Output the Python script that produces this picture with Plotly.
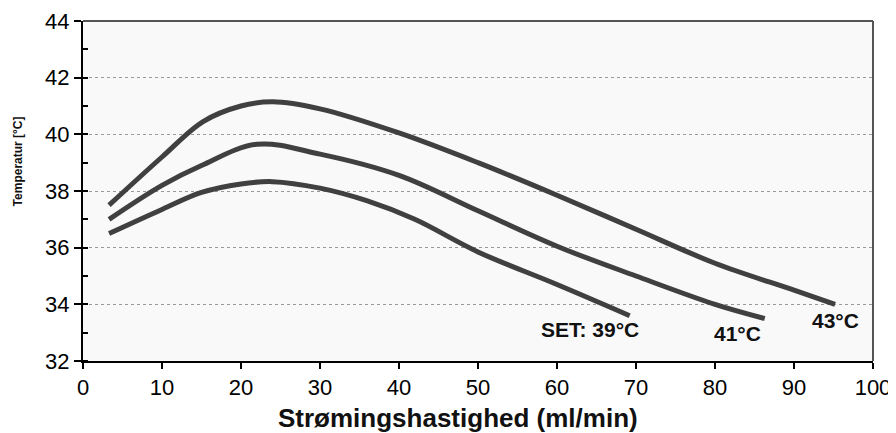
import plotly.graph_objects as go

# Data
x_39 = [3.3, 10, 15, 20, 24, 30, 36, 42, 50, 60, 69.2]
y_39 = [36.5, 37.35, 37.95, 38.25, 38.33, 38.1, 37.65, 37.0, 35.85, 34.7, 33.6]

x_41 = [3.3, 10, 15, 22, 30, 40, 50, 60, 70, 80, 86.3]
y_41 = [37.0, 38.2, 38.9, 39.65, 39.3, 38.55, 37.3, 36.05, 35.0, 34.0, 33.5]

x_43 = [3.3, 10, 15.2, 20, 24, 30, 40, 50, 60, 70, 80, 90, 95.2]
y_43 = [37.5, 39.2, 40.45, 41.0, 41.15, 40.9, 40.05, 39.0, 37.85, 36.65, 35.45, 34.5, 34.0]

labels = ["SET: 39°C", "41°C", "43°C"]
label_x = [64.2, 82.9, 95.2]
label_y = [33.1, 32.97, 33.43]

x_title = "Strømingshastighed (ml/min)"
y_title = "Temperatur [°C]"

FONT = "Liberation Sans, Arial, sans-serif"
LINE_COLOR = "#404040"

fig = go.Figure()
for xs, ys in [(x_39, y_39), (x_41, y_41), (x_43, y_43)]:
    fig.add_trace(go.Scatter(
        x=xs, y=ys, mode="lines",
        line=dict(color=LINE_COLOR, width=5, shape="spline", smoothing=1.0),
        showlegend=False, hoverinfo="skip",
    ))

for t, lx, ly in zip(labels, label_x, label_y):
    fig.add_annotation(x=lx, y=ly, xref="x", yref="y", text=f"<b>{t}</b>",
                       showarrow=False, font=dict(family=FONT, size=21, color="#111"))

# axis titles (placed as in the reference, slightly off-centre)
fig.add_annotation(x=0.475, y=-0.168, xref="paper", yref="paper",
                   xanchor="center", yanchor="middle", showarrow=False,
                   text=f"<b>{x_title}</b>", font=dict(family=FONT, size=26, color="#111"))
fig.add_annotation(x=-0.0823, y=0.587, xref="paper", yref="paper",
                   xanchor="center", yanchor="middle", showarrow=False, textangle=-90,
                   text=f"<b>{y_title}</b>", font=dict(family=FONT, size=12, color="#111"))

# top and right border lines
fig.add_shape(type="line", xref="paper", yref="paper", x0=0, x1=1, y0=1, y1=1,
              line=dict(color="#555", width=2))
fig.add_shape(type="line", xref="paper", yref="paper", x0=1, x1=1, y0=0, y1=1,
              line=dict(color="#555", width=2))

# page body has an 8px default margin, so the figure is 8px smaller and margins shifted
fig.update_layout(
    width=888, height=425,
    margin=dict(l=75, r=23, t=13, b=72),
    paper_bgcolor="white",
    plot_bgcolor="#f9f9f9",
    font=dict(family=FONT, color="#000"),
    xaxis=dict(
        range=[0, 100], dtick=10, tick0=0, automargin=False,
        showgrid=False, zeroline=False,
        showline=True, linecolor="#000", linewidth=2,
        ticks="outside", ticklen=6, tickcolor="#000", tickwidth=1.5,
        tickfont=dict(family=FONT, size=22, color="#000"),
    ),
    yaxis=dict(
        range=[32, 44], dtick=2, tick0=32, automargin=False,
        showgrid=True, gridcolor="#999", gridwidth=1, griddash="dot",
        zeroline=False,
        showline=True, linecolor="#000", linewidth=2,
        ticks="outside", ticklen=7, tickcolor="#000", tickwidth=1.5,
        tickfont=dict(family=FONT, size=22, color="#000"),
        minor=dict(dtick=1, ticks="inside", ticklen=5, tickcolor="#000", tickwidth=1.5, showgrid=False),
    ),
)

fig.write_html("out.html")
